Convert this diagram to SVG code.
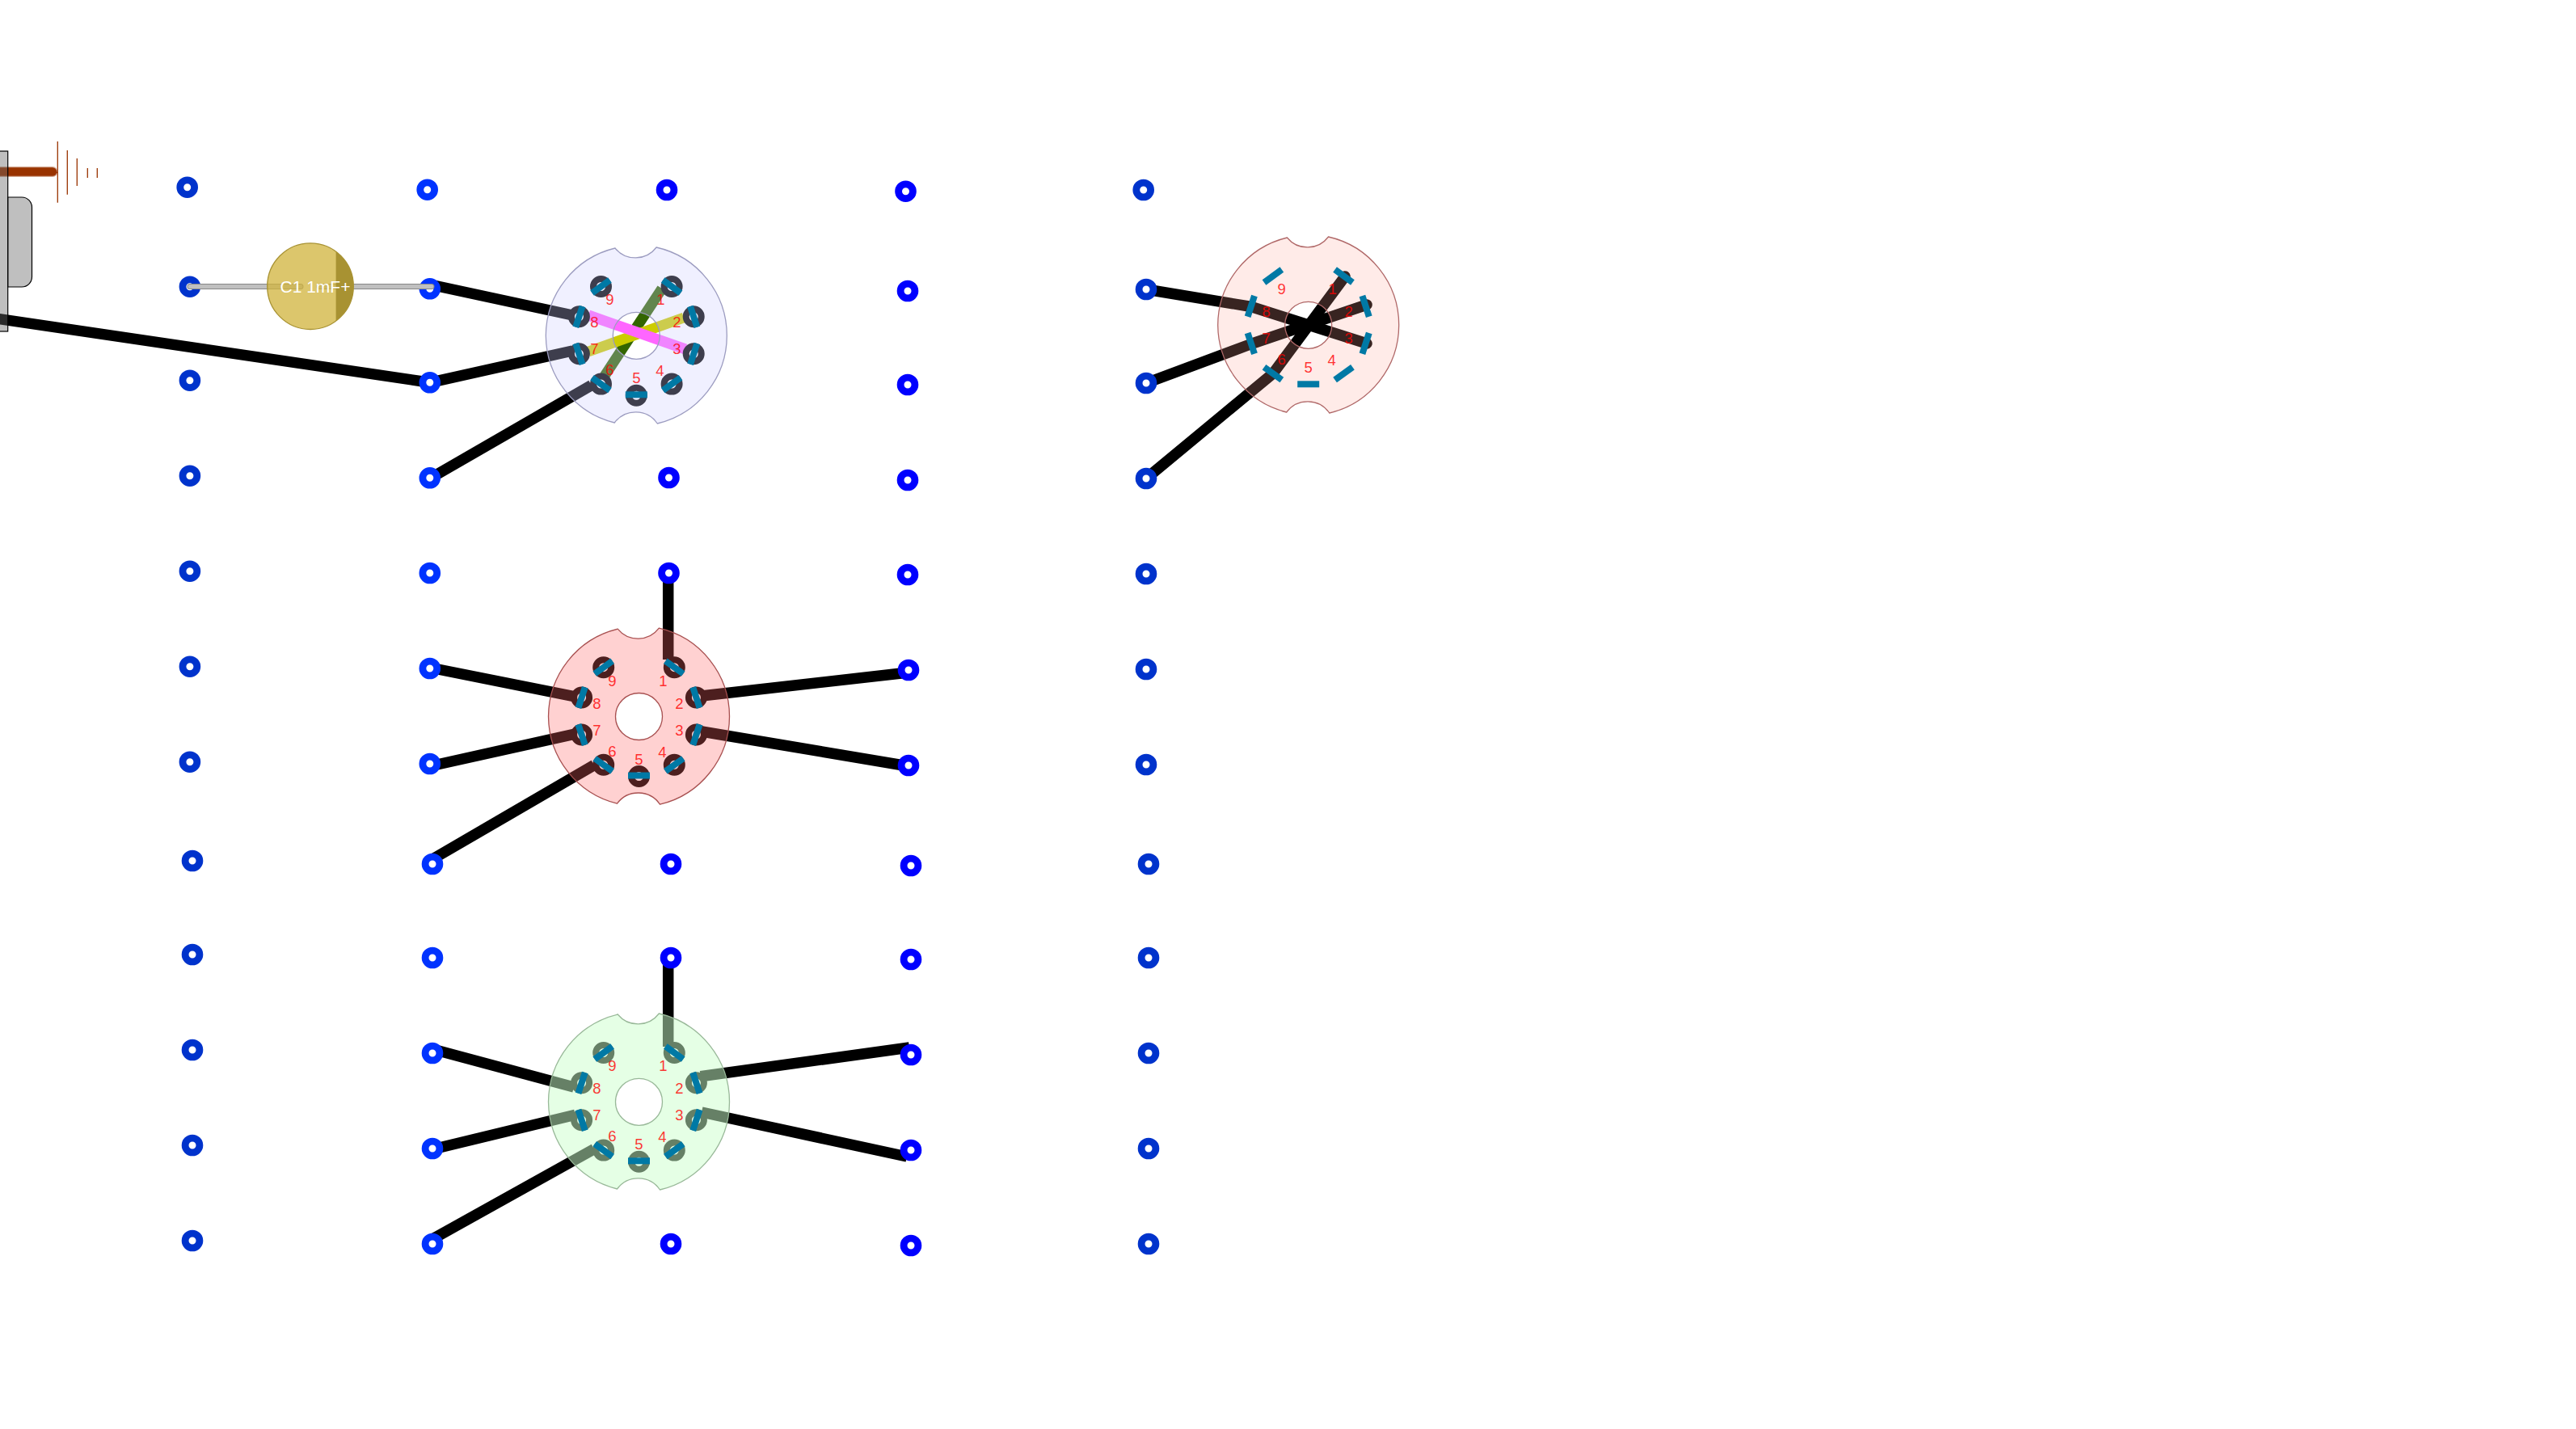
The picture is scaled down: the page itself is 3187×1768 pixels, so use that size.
<svg xmlns="http://www.w3.org/2000/svg" width="3187" height="1768" viewBox="0 0 3187 1768">
<style>
.w{fill:none;stroke:#000;stroke-width:13.5}
.wr{fill:none;stroke:#000;stroke-width:13.5;stroke-linecap:round;stroke-linejoin:round}
.r1{fill:#fff;stroke:#03c;stroke-width:8.8}
.r2{fill:#fff;stroke:#03f;stroke-width:8.8}
.r3{fill:#fff;stroke:#00f;stroke-width:8.8}
.pin{fill:none;stroke:#000;stroke-width:8}
.bar{fill:#0079a5}
.plate{stroke-width:1.3;fill-rule:evenodd}
.l{font:18.5px "Liberation Sans",Arial,sans-serif;fill:#f00;fill-opacity:.8;text-anchor:middle}
.box{fill:#666;fill-opacity:.42;stroke:#000;stroke-width:1.2}
.bat{stroke:#930;stroke-width:1.3;fill:none}
</style>
<defs>
<path id="plate" d="M-26.3-108.3A112 112 0 0 0-112 0A112 112 0 0 0-27 107.7A32.5 32.5 0 0 1 26 108.7A112 112 0 0 0 112 0A112 112 0 0 0 24.8-109.3A32.5 32.5 0 0 1-26.3-108.3ZM29 0A29 29 0 0 0-29 0A29 29 0 0 0 29 0Z"/>
<g id="pins">
<circle class="pin" cx="43.8" cy="-60.8" r="9.5"/><circle class="pin" cx="70.9" cy="-23.5" r="9.5"/><circle class="pin" cx="70.9" cy="22.5" r="9.5"/><circle class="pin" cx="43.8" cy="59.8" r="9.5"/><circle class="pin" cx="0" cy="74" r="9.5"/><circle class="pin" cx="-43.8" cy="59.8" r="9.5"/><circle class="pin" cx="-70.9" cy="22.5" r="9.5"/><circle class="pin" cx="-70.9" cy="-23.5" r="9.5"/><circle class="pin" cx="-43.8" cy="-60.8" r="9.5"/>
</g>
<g id="bars">
<rect class="bar" x="-13.5" y="-4" width="27" height="8" transform="translate(43.8 -60.8) rotate(36)"/><rect class="bar" x="-13.5" y="-4" width="27" height="8" transform="translate(70.9 -23.5) rotate(72)"/><rect class="bar" x="-13.5" y="-4" width="27" height="8" transform="translate(70.9 22.5) rotate(108)"/><rect class="bar" x="-13.5" y="-4" width="27" height="8" transform="translate(43.8 59.8) rotate(144)"/><rect class="bar" x="-13.5" y="-4" width="27" height="8" transform="translate(0 73)"/><rect class="bar" x="-13.5" y="-4" width="27" height="8" transform="translate(-43.8 59.8) rotate(216)"/><rect class="bar" x="-13.5" y="-4" width="27" height="8" transform="translate(-70.9 22.5) rotate(252)"/><rect class="bar" x="-13.5" y="-4" width="27" height="8" transform="translate(-70.9 -23.5) rotate(288)"/><rect class="bar" x="-13.5" y="-4" width="27" height="8" transform="translate(-43.8 -60.8) rotate(324)"/>
</g>
<circle id="ring" r="8.9"/>
</defs>
<rect width="3187" height="1768" fill="#fff"/>
<g id="connectors">
<path class="w" d="M-5 394L532 473.3L708.3 434"/>
<path class="w" d="M531.8 352L708.3 390"/>
<path class="w" d="M531.8 592L731.7 476.7"/>
<path d="M819 357L748 465" fill="none" stroke="#360" stroke-width="13"/>
<path d="M846 393L728 435" fill="none" stroke="#cc0" stroke-width="13"/>
<path d="M728 390L848 432" fill="none" stroke="#f6f" stroke-width="13"/>
<path class="w" d="M531.8 826L710 861.7"/>
<path class="w" d="M531.8 948L710 908.3"/>
<path class="w" d="M535 1063L735 946.7"/>
<path class="w" d="M826.7 709V816"/>
<path class="w" d="M1124 832L868 861"/>
<path class="w" d="M1124 948L868 905"/>
<path class="w" d="M535 1298L710 1345"/>
<path class="w" d="M535 1422L711.7 1379.3"/>
<path class="w" d="M535 1533L735 1421.7"/>
<path class="w" d="M826.7 1185V1295"/>
<path class="w" d="M1125 1296L866.7 1331.7"/>
<path class="w" d="M1122 1431L868 1376"/>
<path class="wr" d="M1418 358L1548 379.5L1691 425"/>
<path class="wr" d="M1418 474L1548 425.5L1691 377"/>
<path class="wr" d="M1418 592L1575 462L1664 342"/>
</g>
<g id="battery">
<path d="M-5 212.5H65" stroke="#930" stroke-opacity=".4" stroke-width="13" stroke-linecap="round"/>
<path d="M-5 212.5H65" stroke="#930" stroke-width="10.5" stroke-linecap="round"/>
<path class="bat" d="M65 213.3H71.3M71.3 175V250.7M83.3 186V240.7M95.3 196V230M108.3 208V220M120.3 208V220"/>
</g>
<g id="connector-J1">
<rect class="box" x="-5" y="187" width="14.7" height="223"/>
<path class="box" d="M9.7 244H27A12.5 12.5 0 0 1 39.5 256.5V342.5A12.5 12.5 0 0 1 27 355H9.7Z"/>
</g>
<g id="board-blue" transform="translate(787.3 415.3)">
<use href="#pins"/>
<use href="#plate" class="plate" fill="#ccf" fill-opacity=".3" stroke="#9c9cc0"/>
<use href="#bars"/>
<text class="l" x="30" y="-38">1</text><text class="l" x="50" y="-10">2</text><text class="l" x="50" y="23">3</text><text class="l" x="29" y="50">4</text><text class="l" x="0" y="59">5</text><text class="l" x="-33" y="49">6</text><text class="l" x="-52" y="23">7</text><text class="l" x="-52" y="-10">8</text><text class="l" x="-33" y="-38">9</text>
</g>
<g id="board-red" transform="translate(790.5 886.5)">
<use href="#pins"/>
<use href="#plate" class="plate" fill="#f66" fill-opacity=".3" stroke="#a85050"/>
<use href="#bars"/>
<text class="l" x="30" y="-38">1</text><text class="l" x="50" y="-10">2</text><text class="l" x="50" y="23">3</text><text class="l" x="29" y="50">4</text><text class="l" x="0" y="59">5</text><text class="l" x="-33" y="49">6</text><text class="l" x="-52" y="23">7</text><text class="l" x="-52" y="-10">8</text><text class="l" x="-33" y="-38">9</text>
</g>
<g id="board-green" transform="translate(790.5 1363.3)">
<use href="#pins"/>
<use href="#plate" class="plate" fill="#cfc" fill-opacity=".5" stroke="#98b898"/>
<use href="#bars"/>
<text class="l" x="30" y="-38">1</text><text class="l" x="50" y="-10">2</text><text class="l" x="50" y="23">3</text><text class="l" x="29" y="50">4</text><text class="l" x="0" y="59">5</text><text class="l" x="-33" y="49">6</text><text class="l" x="-52" y="23">7</text><text class="l" x="-52" y="-10">8</text><text class="l" x="-33" y="-38">9</text>
</g>
<g id="board-pink" transform="translate(1618.7 402.3)">
<use href="#plate" class="plate" fill="#ffa598" fill-opacity=".22" stroke="#b06868"/>
<use href="#bars"/>
<text class="l" x="30" y="-38">1</text><text class="l" x="50" y="-10">2</text><text class="l" x="50" y="23">3</text><text class="l" x="29" y="50">4</text><text class="l" x="0" y="59">5</text><text class="l" x="-33" y="49">6</text><text class="l" x="-52" y="23">7</text><text class="l" x="-52" y="-10">8</text><text class="l" x="-33" y="-38">9</text>
</g>
<g id="rings-col1" class="r1">
<use href="#ring" x="231.7" y="231.7"/><use href="#ring" x="234.9" y="354.7"/><use href="#ring" x="234.9" y="470.7"/><use href="#ring" x="234.9" y="588.7"/><use href="#ring" x="234.9" y="706.7"/><use href="#ring" x="234.9" y="824.7"/><use href="#ring" x="234.9" y="942.7"/><use href="#ring" x="238" y="1065"/><use href="#ring" x="238" y="1181"/><use href="#ring" x="238" y="1299"/><use href="#ring" x="238" y="1417"/><use href="#ring" x="238" y="1535"/>
</g>
<g id="rings-col2" class="r2">
<use href="#ring" x="528.7" y="234.7"/><use href="#ring" x="531.8" y="357.3"/><use href="#ring" x="531.8" y="473.3"/><use href="#ring" x="531.8" y="591.3"/><use href="#ring" x="531.8" y="709"/><use href="#ring" x="531.8" y="827"/><use href="#ring" x="531.8" y="945"/><use href="#ring" x="535" y="1069"/><use href="#ring" x="535" y="1185"/><use href="#ring" x="535" y="1303"/><use href="#ring" x="535" y="1421"/><use href="#ring" x="535" y="1539"/>
</g>
<g id="rings-col3" class="r3">
<use href="#ring" x="825" y="235"/><use href="#ring" x="827.5" y="591"/><use href="#ring" x="827.5" y="709"/><use href="#ring" x="830" y="1069"/><use href="#ring" x="830" y="1185"/><use href="#ring" x="830" y="1539"/>
</g>
<g id="rings-col4" class="r3">
<use href="#ring" x="1120.5" y="236.7"/><use href="#ring" x="1123" y="360"/><use href="#ring" x="1123" y="476"/><use href="#ring" x="1123" y="594"/><use href="#ring" x="1123" y="711"/><use href="#ring" x="1124" y="829"/><use href="#ring" x="1124" y="947"/><use href="#ring" x="1127" y="1071"/><use href="#ring" x="1127" y="1187"/><use href="#ring" x="1127" y="1305"/><use href="#ring" x="1127" y="1423"/><use href="#ring" x="1127" y="1541"/>
</g>
<g id="rings-col5" class="r1">
<use href="#ring" x="1414.7" y="235"/><use href="#ring" x="1418" y="358"/><use href="#ring" x="1418" y="474"/><use href="#ring" x="1418" y="592"/><use href="#ring" x="1418" y="710"/><use href="#ring" x="1418" y="828"/><use href="#ring" x="1418" y="946"/><use href="#ring" x="1421" y="1069"/><use href="#ring" x="1421" y="1185"/><use href="#ring" x="1421" y="1303"/><use href="#ring" x="1421" y="1421"/><use href="#ring" x="1421" y="1539"/>
</g>
<g id="capacitor-C1">
<path d="M234.9 354.5H372M395 354.5H534" stroke="#888" stroke-width="7" stroke-linecap="round" fill="none"/>
<path d="M234.9 354.5H372M395 354.5H534" stroke="#c0c0c0" stroke-width="5" stroke-linecap="round" fill="none"/>
<circle cx="384" cy="354.2" r="53.3" fill="#d1b43e" fill-opacity=".76" stroke="#a89232" stroke-width="1.3"/>
<path d="M415.6 311.3A53.3 53.3 0 0 1 415.6 397.1Z" fill="#a89232"/>
<text x="390" y="362" font-family="Liberation Sans,Arial,sans-serif" font-size="21" fill="#fff" text-anchor="middle">C1 1mF+</text>
</g>
</svg>
